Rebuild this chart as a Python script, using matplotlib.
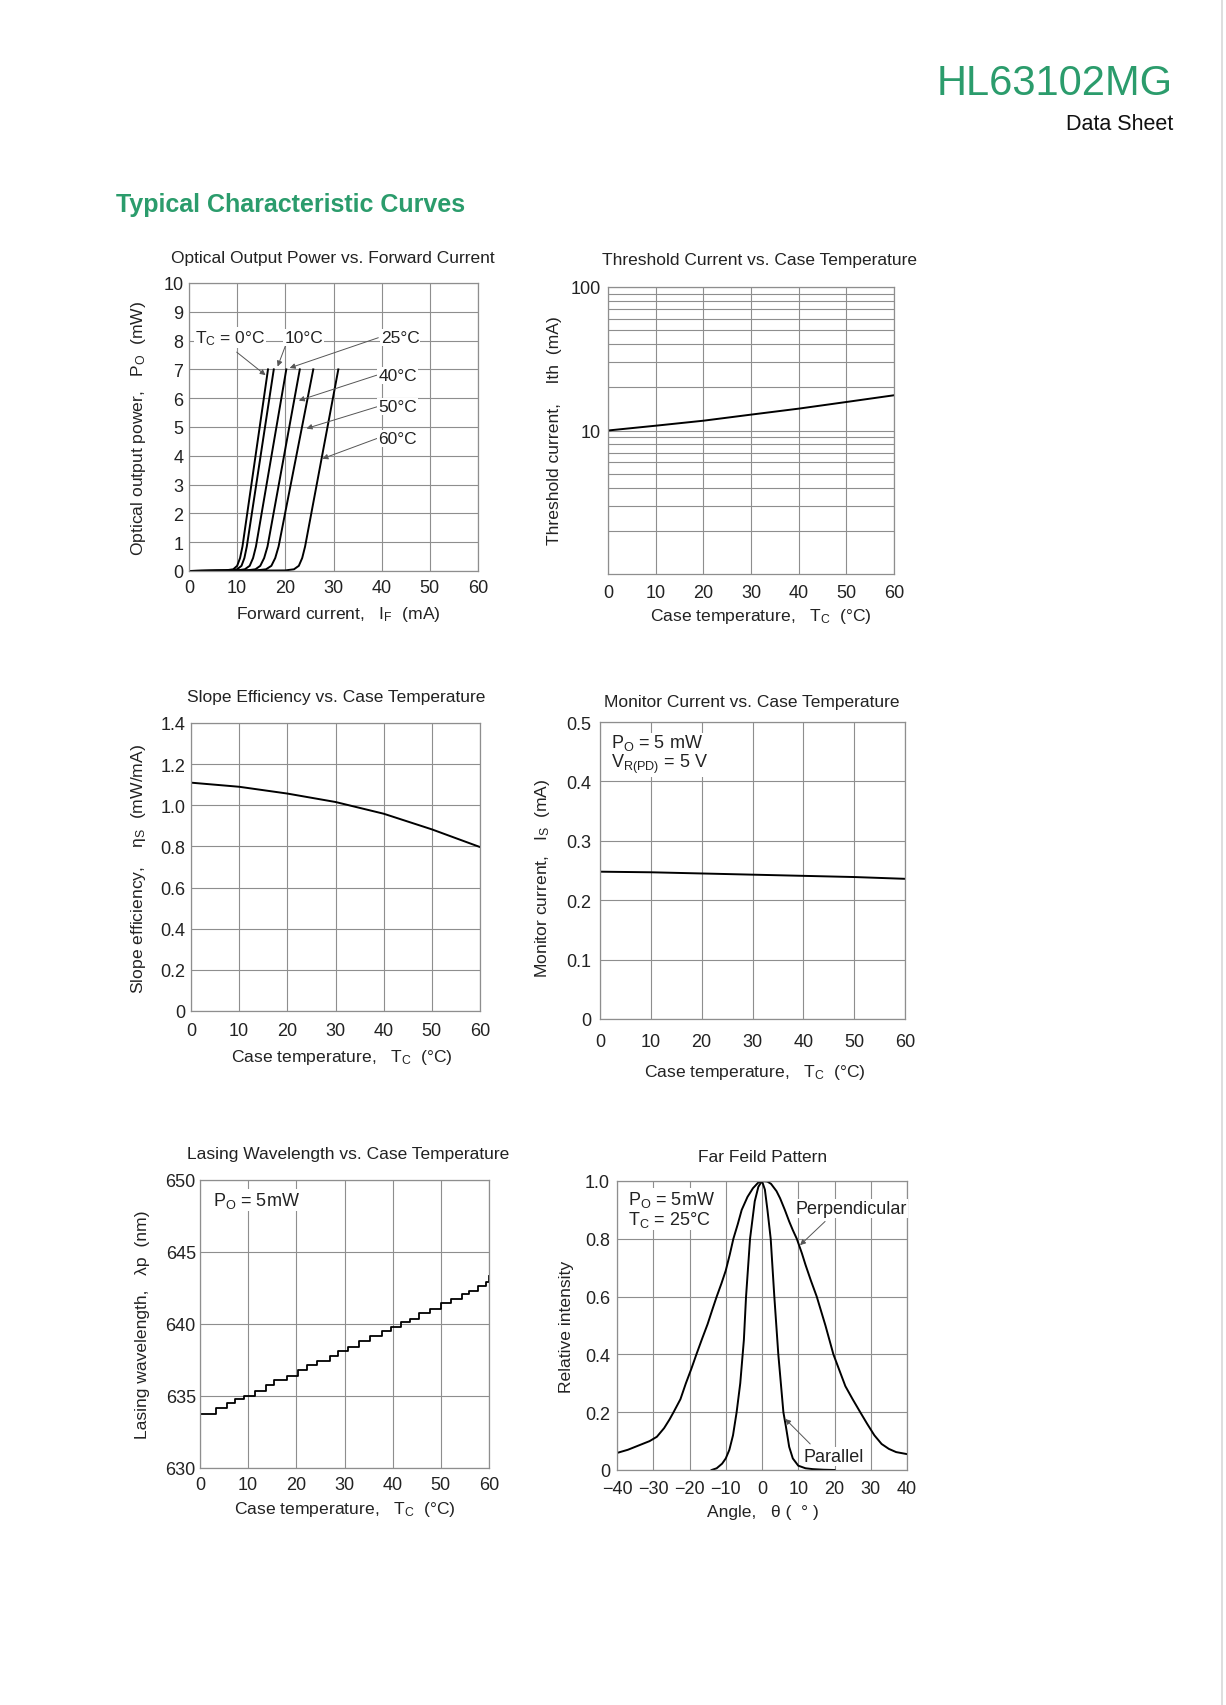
#!/usr/bin/env python3
# -*- coding: utf-8 -*-

"""
HL63102MG 数据手册 典型特性曲线（6 幅小图），输出 out.png
"""

import matplotlib
matplotlib.use('Agg')
import matplotlib.pyplot as plt
from matplotlib.lines import Line2D
from matplotlib.ticker import FixedLocator, LogLocator, NullFormatter

plt.rcParams['font.family'] = ['Liberation Sans', 'DejaVu Sans']
plt.rcParams['mathtext.default'] = 'regular'

W, H, DPI = 1226, 1706, 100
GREEN = '#2b9c6c'
GRID = '#8e8e8e'

# ---- 数据 ----
# 光功率 vs 正向电流（每条曲线：电流点, 对应功率点）
po_levels = [0.0, 0.02, 0.06, 0.18, 0.45, 0.85, 7.0]
if_0c = [0.0, 7.5, 9.2, 10.0, 10.6, 11.1, 16.4]
if_10c = [0.0, 8.5, 10.0, 10.9, 11.5, 12.0, 17.6]
if_25c = [0.0, 10.0, 11.6, 12.6, 13.3, 13.9, 20.2]
if_40c = [0.0, 12.0, 13.8, 14.8, 15.6, 16.3, 23.0]
if_50c = [0.0, 14.0, 16.0, 17.1, 17.9, 18.6, 25.8]
if_60c = [0.0, 20.0, 21.8, 22.8, 23.5, 24.1, 31.0]

# 阈值电流 / 斜率效率 / 监控电流 vs 壳温
tc = [0, 10, 20, 30, 40, 50, 60]
ith = [10.0, 10.8, 11.7, 12.9, 14.2, 15.8, 17.6]
slope_eff = [1.11, 1.09, 1.057, 1.016, 0.959, 0.883, 0.797]
monitor_is = [0.248, 0.247, 0.245, 0.243, 0.241, 0.239, 0.236]

# 激射波长（阶梯）
wl_tc = [0, 3.3, 5.7, 7.3, 9.2, 11.4, 13.7, 15.3, 18.0, 20.4, 22.3, 24.2, 27.0, 28.7,
         30.8, 33.0, 35.2, 37.7, 39.7, 41.7, 43.5, 45.5, 47.7, 50.1, 52.2, 54.3, 55.8,
         57.7, 59.4, 60]
wl_nm = [633.72, 634.16, 634.48, 634.76, 635.03, 635.36, 635.73, 636.14, 636.40, 636.84,
         637.16, 637.41, 637.80, 638.10, 638.43, 638.80, 639.15, 639.54, 639.82, 640.12,
         640.35, 640.76, 641.04, 641.45, 641.73, 642.06, 642.31, 642.61, 642.89, 643.35]

# 远场图
perp_angle = [-40, -37, -34, -31, -29, -27, -25.5, -24.4, -22.5, -21, -19.5, -18.1, -16.5,
              -15, -13.7, -12.5, -11.2, -10, -8.9, -7.9, -6.7, -5.6, -4, -2.5, -1, 0,
              1.5, 2.5, 4, 5, 6.3, 7.5, 8.5, 9.6, 11, 12, 13.5, 15.1, 16.3, 17.5, 18.6,
              19.7, 21.5, 23, 25, 27.1, 29, 31, 33, 35, 37, 40]
perp_int = [0.059, 0.07, 0.085, 0.1, 0.115, 0.145, 0.175, 0.2, 0.245, 0.3, 0.35, 0.4, 0.455,
            0.505, 0.555, 0.6, 0.645, 0.69, 0.745, 0.8, 0.85, 0.9, 0.945, 0.975, 0.995, 1.0,
            0.998, 0.99, 0.965, 0.94, 0.9, 0.86, 0.83, 0.8, 0.75, 0.71, 0.655, 0.6, 0.55,
            0.5, 0.45, 0.4, 0.34, 0.29, 0.245, 0.2, 0.16, 0.12, 0.09, 0.073, 0.062, 0.055]
par_angle = [-13.9, -12.5, -11, -10, -9, -8, -7, -6, -5, -4.4, -3.3, -2, -1, 0, 0.8, 1.5,
             2.4, 3.4, 4.5, 5.9, 6.6, 7.5, 8.5, 10, 12, 14, 17, 20]
par_int = [0.0, 0.006, 0.022, 0.04, 0.07, 0.12, 0.2, 0.3, 0.45, 0.6, 0.8, 0.93, 0.98, 1.0,
           0.97, 0.9, 0.8, 0.6, 0.4, 0.2, 0.15, 0.08, 0.04, 0.015, 0.006, 0.003, 0.001, 0.0]


def px_axes(fig, x0, y0, x1, y1):
    return fig.add_axes([x0 / W, 1 - y1 / H, (x1 - x0) / W, (y1 - y0) / H])


def px_text(fig, x, y, s, **kw):
    kw.setdefault('ha', 'center')
    kw.setdefault('va', 'center')
    return fig.text(x / W, 1 - y / H, s, **kw)


def style(ax, xpad=6, ypad=4):
    ax.grid(True, which='both', color=GRID, linewidth=0.8)
    ax.set_axisbelow(True)
    for sp in ax.spines.values():
        sp.set_color(GRID)
        sp.set_linewidth(0.9)
    ax.tick_params(axis='both', which='both', length=0, labelsize=13, colors='#222')
    ax.tick_params(axis='x', pad=xpad)
    ax.tick_params(axis='y', pad=ypad)


def note(ax, x, y, s, size=12.5, va='center'):
    # 图内文字，白底遮住网格线
    ax.text(x, y, s, fontsize=size, va=va, color='#222', zorder=5, linespacing=1.05,
            bbox=dict(facecolor='white', edgecolor='none', pad=0.8))


def arrow(ax, tail, tip):
    ax.annotate('', xy=tip, xytext=tail, zorder=4,
                arrowprops=dict(arrowstyle='-|>', color='#555', lw=0.7,
                                mutation_scale=8, shrinkA=0, shrinkB=0))


def main():
    fig = plt.figure(figsize=(W / DPI, H / DPI), dpi=DPI)

    # 页眉
    px_text(fig, 1173, 84, 'HL63102MG', ha='right', fontsize=30, color=GREEN)
    px_text(fig, 1173, 124, 'Data Sheet', ha='right', fontsize=15.5, color='#111')
    px_text(fig, 116, 205, 'Typical Characteristic Curves', ha='left', fontsize=18,
            fontweight='bold', color=GREEN, family=['Liberation Sans Narrow', 'Liberation Sans'])
    fig.add_artist(Line2D([1222 / W, 1222 / W], [0, 1], color='#d8d8d8', lw=1.2,
                          transform=fig.transFigure))

    lab_kw = dict(fontsize=12.6, color='#222')
    tit_kw = dict(fontsize=12.5, color='#222')

    # 1. 光功率 vs 正向电流
    ax = px_axes(fig, 189, 284, 478, 572)
    for xs in (if_0c, if_10c, if_25c, if_40c, if_50c, if_60c):
        ax.plot(xs, po_levels, color='black', lw=1.4)
    ax.set_xlim(0, 60)
    ax.set_ylim(0, 10)
    ax.set_xticks(range(0, 61, 10))
    ax.set_yticks(range(0, 11))
    style(ax, xpad=6, ypad=4)
    note(ax, 1.2, 8.1, 'T$_C$ = 0°C')
    note(ax, 19.8, 8.1, '10°C')
    note(ax, 39.8, 8.1, '25°C')
    note(ax, 39.3, 6.8, '40°C')
    note(ax, 39.3, 5.7, '50°C')
    note(ax, 39.3, 4.6, '60°C')
    for tail, tip in [((9.9, 7.6), (15.9, 6.8)), ((20.2, 7.9), (18.4, 7.1)),
                      ((39.3, 8.1), (20.9, 7.05)), ((39.0, 6.8), (22.8, 5.92)),
                      ((39.0, 5.7), (24.4, 4.95)), ((39.0, 4.6), (27.7, 3.9))]:
        arrow(ax, tail, tip)
    px_text(fig, 333, 258, 'Optical Output Power vs. Forward Current', **tit_kw)
    px_text(fig, 338, 615, 'Forward current,   I$_F$  (mA)', **lab_kw)
    px_text(fig, 138, 428, 'Optical output power,   P$_O$  (mW)', rotation=90, **lab_kw)

    # 2. 阈值电流 vs 壳温
    ax = px_axes(fig, 608, 288, 894, 575)
    ax.plot(tc, ith, color='black', lw=1.4)
    ax.set_yscale('log')
    ax.set_xlim(0, 60)
    ax.set_ylim(1, 100)
    ax.set_xticks(range(0, 61, 10))
    ax.yaxis.set_major_locator(FixedLocator([10, 100]))
    ax.yaxis.set_minor_locator(LogLocator(subs=range(2, 10)))
    ax.yaxis.set_minor_formatter(NullFormatter())
    ax.set_yticklabels(['10', '100'])
    style(ax, xpad=7, ypad=5)
    px_text(fig, 759, 261, 'Threshold Current vs. Case Temperature', **tit_kw)
    px_text(fig, 761, 617, 'Case temperature,   T$_C$  (°C)', **lab_kw)
    px_text(fig, 555, 431, 'Threshold current,    Ith  (mA)', rotation=90, **lab_kw)

    # 3. 斜率效率 vs 壳温
    ax = px_axes(fig, 191, 724, 480, 1012)
    ax.plot(tc, slope_eff, color='black', lw=1.4)
    ax.set_xlim(0, 60)
    ax.set_ylim(0, 1.4)
    ax.set_xticks(range(0, 61, 10))
    ax.set_yticks([0, 0.2, 0.4, 0.6, 0.8, 1.0, 1.2, 1.4])
    ax.set_yticklabels(['0', '0.2', '0.4', '0.6', '0.8', '1.0', '1.2', '1.4'])
    style(ax, xpad=8, ypad=4)
    px_text(fig, 336, 698, 'Slope Efficiency vs. Case Temperature', **tit_kw)
    px_text(fig, 342, 1058, 'Case temperature,   T$_C$  (°C)', **lab_kw)
    px_text(fig, 138, 869, 'Slope efficiency,    η$_S$  (mW/mA)', rotation=90, **lab_kw)

    # 4. 监控电流 vs 壳温
    ax = px_axes(fig, 600, 723, 905, 1020)
    ax.plot(tc, monitor_is, color='black', lw=1.4)
    ax.set_xlim(0, 60)
    ax.set_ylim(0, 0.5)
    ax.set_xticks(range(0, 61, 10))
    ax.set_yticks([0, 0.1, 0.2, 0.3, 0.4, 0.5])
    ax.set_yticklabels(['0', '0.1', '0.2', '0.3', '0.4', '0.5'])
    style(ax, xpad=10, ypad=6)
    note(ax, 2.2, 0.447, 'P$_O$ = 5 mW\nV$_{R(PD)}$ = 5 V', size=13)
    px_text(fig, 752, 703, 'Monitor Current vs. Case Temperature', **tit_kw)
    px_text(fig, 755, 1072, 'Case temperature,   T$_C$  (°C)', **lab_kw)
    px_text(fig, 543, 878, 'Monitor current,   I$_S$  (mA)', rotation=90, **lab_kw)

    # 5. 激射波长 vs 壳温
    ax = px_axes(fig, 200, 1181, 489, 1469)
    ax.step(wl_tc, wl_nm, where='post', color='black', lw=1.3)
    ax.set_xlim(0, 60)
    ax.set_ylim(630, 650)
    ax.set_xticks(range(0, 61, 10))
    ax.set_yticks(range(630, 651, 5))
    style(ax, xpad=6, ypad=3)
    note(ax, 2.8, 648.6, 'P$_O$ = 5mW', size=13)
    px_text(fig, 348, 1155, 'Lasing Wavelength vs. Case Temperature', **tit_kw)
    px_text(fig, 345, 1510, 'Case temperature,   T$_C$  (°C)', **lab_kw)
    px_text(fig, 143, 1325, 'Lasing wavelength,   λp  (nm)', rotation=90, **lab_kw)

    # 6. 远场图
    ax = px_axes(fig, 617, 1182, 907, 1471)
    ax.plot(perp_angle, perp_int, color='black', lw=1.4)
    ax.plot(par_angle, par_int, color='black', lw=1.4)
    ax.set_xlim(-40, 40)
    ax.set_ylim(0, 1.0)
    ax.set_xticks(range(-40, 41, 10))
    ax.set_yticks([0, 0.2, 0.4, 0.6, 0.8, 1.0])
    ax.set_yticklabels(['0', '0.2', '0.4', '0.6', '0.8', '1.0'])
    style(ax, xpad=7, ypad=5)
    note(ax, -37, 0.903, 'P$_O$ = 5mW\nT$_C$ = 25°C', size=13)
    note(ax, 9.3, 0.905, 'Perpendicular', size=13)
    note(ax, 11.5, 0.047, 'Parallel', size=13)
    arrow(ax, (17.4, 0.86), (10.5, 0.778))
    arrow(ax, (13.3, 0.09), (6.4, 0.177))
    px_text(fig, 763, 1157, 'Far Feild Pattern', **tit_kw)
    px_text(fig, 763, 1513, 'Angle,   θ (  ° )', **lab_kw)
    px_text(fig, 566, 1327, 'Relative intensity', rotation=90, **lab_kw)

    fig.savefig('out.png', dpi=DPI, facecolor='white')
    print('saved out.png')


if __name__ == '__main__':
    main()
